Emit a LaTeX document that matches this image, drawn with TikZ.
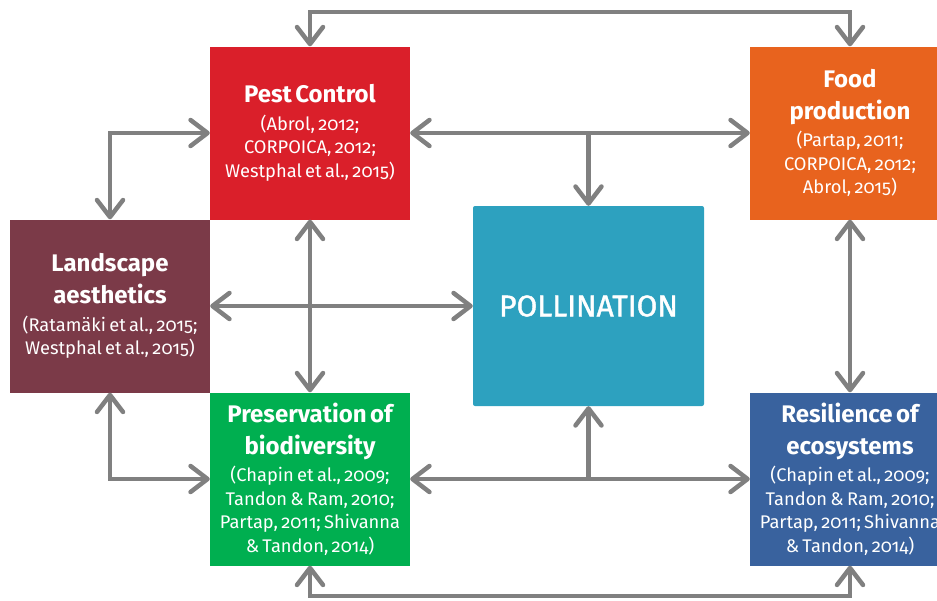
\documentclass[tikz,border=0pt]{standalone}
\usepackage{fontspec}
\setmainfont{Fira Sans}[Numbers=OldStyle]
\newfontfamily\pollfont{Fira Sans}[FakeBold=1.3]
\usetikzlibrary{arrows.meta}
\definecolor{pestred}{RGB}{218,31,42}
\definecolor{foodorange}{RGB}{232,99,30}
\definecolor{landwine}{RGB}{123,58,72}
\definecolor{biogreen}{RGB}{0,175,80}
\definecolor{resblue}{RGB}{57,98,158}
\definecolor{pollteal}{RGB}{45,161,191}
\definecolor{linkgray}{RGB}{128,128,128}
\newcommand{\boxtitle}[1]{{\fontsize{24}{32}\selectfont\bfseries #1\par}\vspace{4pt}}
\newcommand{\boxrefs}[1]{{\fontsize{18.3}{23.5}\selectfont #1\par}}
\begin{document}
\begin{tikzpicture}[x=1pt,y=-1pt,
  service/.style={minimum width=200pt, minimum height=173pt, inner sep=0pt,
    text width=200pt, align=center, text=white},
  link/.style={draw=linkgray, line width=4.5pt},
  tipend/.tip={Straight Barb[length=17pt, width=26pt, round]},
  both/.style={link, tipend-tipend},
  single/.style={link, -tipend}]
\useasboundingbox (0,0) rectangle (937,600);

% service boxes
\node[service, fill=pestred] (pest) at (310,133)
  {\boxtitle{Pest Control}\boxrefs{(Abrol, 2012;\\CORPOICA, 2012;\\Westphal et al., 2015)}};
\node[service, fill=foodorange] (food) at (850,133)
  {\boxtitle{Food\\production}\boxrefs{(Partap, 2011;\\CORPOICA, 2012;\\Abrol, 2015)}};
\node[service, fill=landwine] (land) at (110,306)
  {\boxtitle{Landscape\\aesthetics}\boxrefs{(Ratamäki et al., 2015;\\Westphal et al., 2015)}};
\node[service, fill=biogreen] (pres) at (310,479)
  {\boxtitle{Preservation of\\biodiversity}\boxrefs{(Chapin et al., 2009;\\Tandon \& Ram, 2010;\\Partap, 2011; Shivanna\\\& Tandon, 2014)}};
\node[service, fill=resblue] (res) at (850,479)
  {\boxtitle{Resilience of\\ecosystems}\boxrefs{(Chapin et al., 2009;\\Tandon \& Ram, 2010;\\Partap, 2011; Shivanna\\\& Tandon, 2014)}};
\node[fill=pollteal, rounded corners=2pt, minimum width=231pt, minimum height=200pt,
  inner sep=0pt, text=white, font=\pollfont\fontsize{30}{32}\selectfont] (poll) at (588.5,306) {POLLINATION};

% routing points
\coordinate (topline) at (580,12);
\coordinate (botline) at (580,596);

% connectors
\draw[both] (pest.north) |- (topline) -| (food.north);
\draw[both] (pest.east) -- (food.west);
\draw[single] (pest.east -| poll.north) -- (poll.north);
\draw[both] (pest.west) -| (land.north);
\draw[both] (land.east) -- (poll.west |- land.east);
\draw[both] (pest.south) -- (pres.north);
\draw[both] (land.south) |- (pres.west);
\draw[both] (pres.east) -- (res.west);
\draw[single] (pres.east -| poll.south) -- (poll.south);
\draw[both] (food.south) -- (res.north);
\draw[both] (pres.south) |- (botline) -| (res.south);
\end{tikzpicture}
\end{document}
